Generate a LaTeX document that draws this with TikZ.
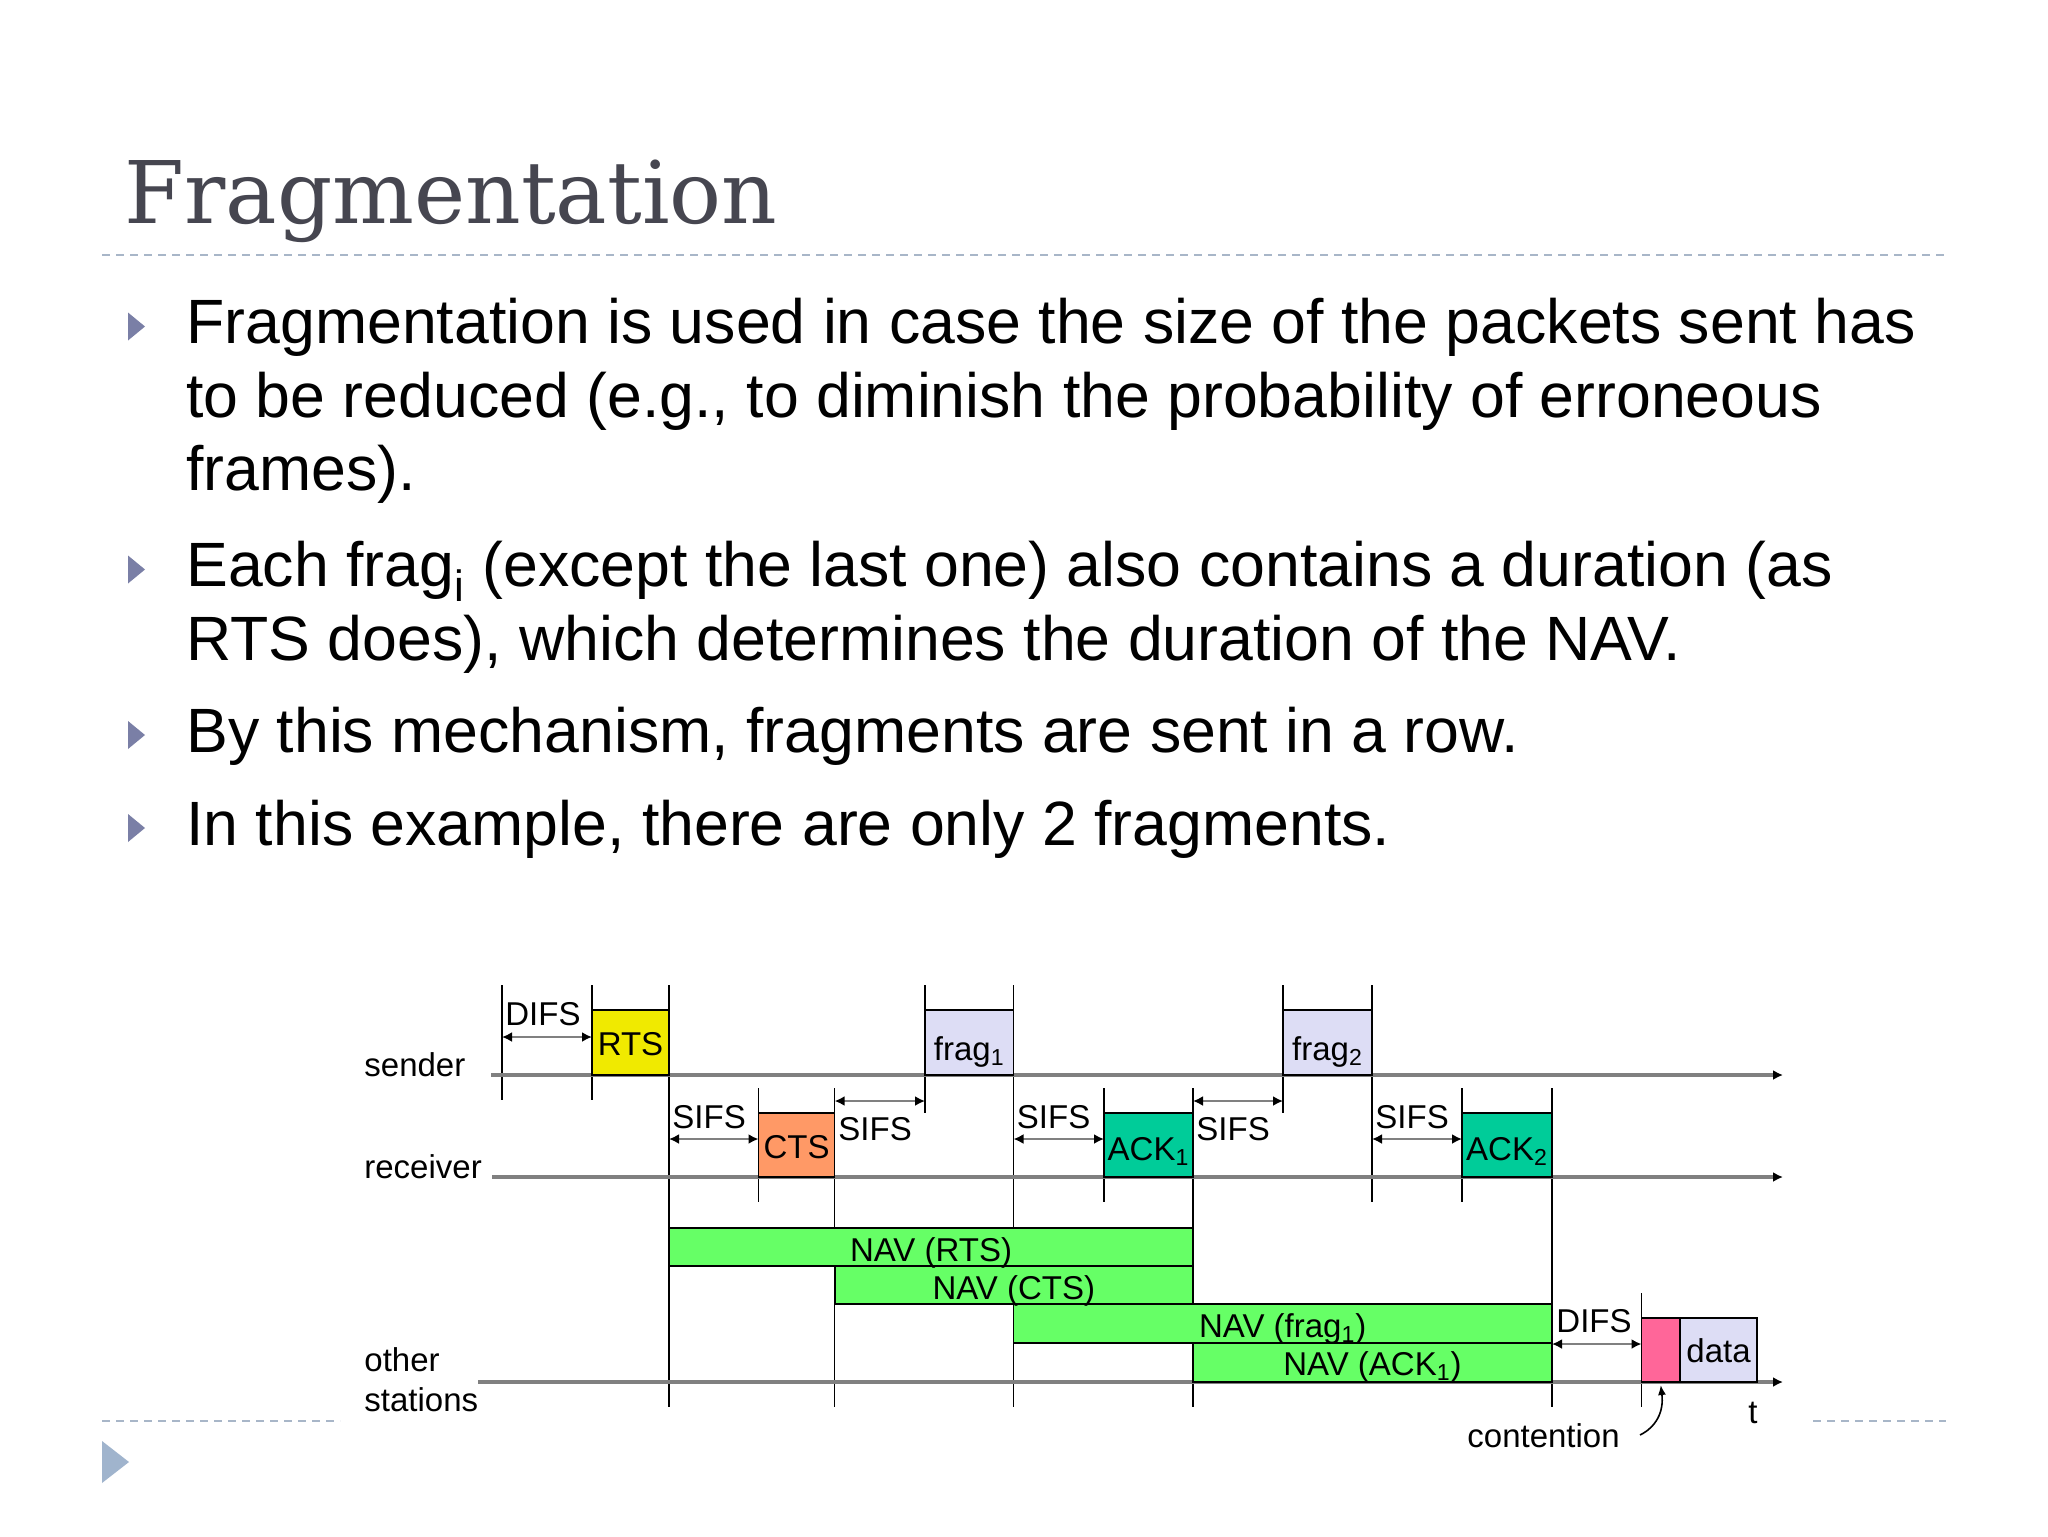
\documentclass[tikz,border=0pt]{standalone}
\usepackage{fontspec}
\setmainfont{Liberation Sans}
\newfontfamily\titlefont{DejaVu Serif}
\usetikzlibrary{arrows.meta}
\definecolor{titlegray}{RGB}{70,70,80}
\definecolor{bulletblue}{RGB}{122,127,166}
\definecolor{dashblue}{RGB}{168,182,200}
\definecolor{cornerblue}{RGB}{160,180,205}
\definecolor{tlgray}{RGB}{128,128,128}
\definecolor{rtsyellow}{RGB}{240,234,0}
\definecolor{ctsorange}{RGB}{255,153,102}
\definecolor{fraglav}{RGB}{221,221,245}
\definecolor{ackteal}{RGB}{0,204,153}
\definecolor{navgreen}{RGB}{102,255,102}
\definecolor{contpink}{RGB}{255,102,153}
\begin{document}
\begin{tikzpicture}[x=0.5pt,y=-0.5pt,
  bodytext/.style={anchor=base west, inner sep=0pt, font=\fontsize{31.3}{36}\selectfont, text=black},
  dlbl/.style={inner sep=0pt, font=\fontsize{16.5}{18}\selectfont, text=black},
  pbox/.style={draw=black, line width=0.9pt, inner sep=0pt, minimum height=32.5pt},
  navbox/.style={draw=black, line width=0.9pt, inner sep=0pt, fill=navgreen},
  tline/.style={draw=tlgray, line width=1.7pt, -{Latex[color=black,length=5pt,width=5pt]}},
  vline/.style={draw=black, line width=0.8pt},
  ivl/.style={draw=tlgray, line width=1.4pt, {Latex[color=black,length=5pt,width=5pt]}-{Latex[color=black,length=5pt,width=5pt]}},
  sepline/.style={draw=dashblue, line width=1pt, dash pattern=on 4pt off 3pt}
]
\useasboundingbox[fill=white] (0,0) rectangle (2048,1536);

% title and separators
\node[anchor=base west, inner sep=0pt, font=\titlefont\fontsize{43.2}{48}\selectfont, text=titlegray] (title) at (124,223) {Fragmentation};
\draw[sepline] (102,255) -- (1946,255);
\draw[sepline] (102,1421) -- (340,1421);
\draw[sepline] (1813,1421) -- (1946,1421);
\fill[cornerblue] (102,1441) -- (129,1462) -- (102,1483) -- cycle;

% bullets
\foreach \b in {343.5,586.5,752,845}{
  \fill[bulletblue] (128,\b-31) -- (145,\b-17) -- (128,\b-3) -- cycle;
}
\node[bodytext] (l1) at (186,343.5) {Fragmentation is used in case the size of the packets sent has};
\node[bodytext] (l2) at (186,417) {to be reduced (e.g., to diminish the probability of erroneous};
\node[bodytext] (l3) at (186,490.5) {frames).};
\node[bodytext] (l4) at (186,586.5) {Each frag\textsubscript{i} (except the last one) also contains a duration (as};
\node[bodytext] (l5) at (186,660) {RTS does), which determines the duration of the NAV.};
\node[bodytext] (l6) at (186,752) {By this mechanism, fragments are sent in a row.};
\node[bodytext] (l7) at (186,845) {In this example, there are only 2 fragments.};

% ---------------- diagram ----------------
% vertical lines
\draw[vline] (502,985) -- (502,1100);
\draw[vline] (592,985) -- (592,1100);
\draw[vline] (669,985) -- (669,1407);
\draw[vline] (925,985) -- (925,1113);
\draw[vline] (1013.5,985) -- (1013.5,1407);
\draw[vline] (1283,985) -- (1283,1113);
\draw[vline] (1372,985) -- (1372,1202);
\draw[vline] (758.5,1088) -- (758.5,1202);
\draw[vline] (834.6,1088) -- (834.6,1407);
\draw[vline] (1104,1088) -- (1104,1202);
\draw[vline] (1193,1088) -- (1193,1407);
\draw[vline] (1462,1088) -- (1462,1202);
\draw[vline] (1552,1088) -- (1552,1407);
\draw[vline] (1641.5,1293) -- (1641.5,1407);

% timelines
\coordinate (sS) at (491,1075);   \coordinate (sE) at (1783,1075);
\coordinate (rS) at (492,1177);   \coordinate (rE) at (1783,1177);
\coordinate (oS) at (478,1382);   \coordinate (oE) at (1783,1382);
\draw[tline] (sS) -- (sE);
\draw[tline] (rS) -- (rE);
\draw[tline] (oS) -- (oE);

\node[dlbl, anchor=base west] (snd) at (364,1076) {sender};
\node[dlbl, anchor=base west] (rcv) at (364,1178) {receiver};
\node[dlbl, anchor=base west] (oth) at (364,1371) {other};
\node[dlbl, anchor=base west] (sta) at (364,1411) {stations};

% frames
\node[pbox, fill=rtsyellow, minimum width=38.5pt] (rts) at (630.5,1042.5) {};
\node[pbox, fill=ctsorange, minimum width=38pt, minimum height=32pt] (cts) at (796.5,1145) {};
\node[pbox, fill=fraglav, minimum width=44.25pt] (frag1) at (969.25,1042.5) {};
\node[pbox, fill=ackteal, minimum width=44.5pt, minimum height=32pt] (ack1) at (1148.5,1145) {};
\node[pbox, fill=fraglav, minimum width=44.5pt] (frag2) at (1327.5,1042.5) {};
\node[pbox, fill=ackteal, minimum width=45pt, minimum height=32pt] (ack2) at (1507,1145) {};

\node[dlbl, anchor=base] (trts) at (630.5,1055) {RTS};
\node[dlbl, anchor=base] (tcts) at (796.5,1158) {CTS};
\node[dlbl, anchor=base] (tfrag1) at (969.25,1060) {frag\textsubscript{1}};
\node[dlbl, anchor=base] (tack1) at (1148.5,1160) {ACK\textsubscript{1}};
\node[dlbl, anchor=base] (tfrag2) at (1327.5,1060) {frag\textsubscript{2}};
\node[dlbl, anchor=base] (tack2) at (1507,1160) {ACK\textsubscript{2}};

% NAVs
\node[navbox, minimum width=262pt, minimum height=19pt] (navrts) at (931,1247) {};
\node[navbox, minimum width=179.2pt, minimum height=19pt] (navcts) at (1013.8,1285) {};
\node[navbox, minimum width=269.25pt, minimum height=19.5pt] (navf1) at (1282.75,1323.5) {};
\node[navbox, minimum width=179.5pt, minimum height=19.5pt] (navack) at (1372.5,1362.5) {};
\node[dlbl, anchor=base] (tnavrts) at (931,1261) {NAV (RTS)};
\node[dlbl, anchor=base] (tnavcts) at (1013.8,1299) {NAV (CTS)};
\node[dlbl, anchor=base] (tnavf1) at (1282.75,1337) {NAV (frag\textsubscript{1})};
\node[dlbl, anchor=base] (tnavack) at (1372.5,1375) {NAV (ACK\textsubscript{1})};

% contention and data
\node[pbox, fill=contpink, minimum width=19.25pt, minimum height=32pt] (cont) at (1660.75,1350) {};
\node[pbox, fill=fraglav, minimum width=38.5pt, minimum height=32pt] (data) at (1718.5,1350) {};
\node[dlbl, anchor=base] (tdata) at (1718.5,1362) {data};

% interval arrows
\coordinate (d1a) at (502,1037);    \coordinate (d1b) at (592,1037);
\coordinate (s1a) at (669,1139);    \coordinate (s1b) at (758.5,1139);
\coordinate (s2a) at (834.6,1101);  \coordinate (s2b) at (925,1101);
\coordinate (s3a) at (1013.5,1139); \coordinate (s3b) at (1104,1139);
\coordinate (s4a) at (1193,1101);   \coordinate (s4b) at (1283,1101);
\coordinate (s5a) at (1372,1139);   \coordinate (s5b) at (1462,1139);
\coordinate (d2a) at (1552,1344);   \coordinate (d2b) at (1641.5,1344);
\draw[ivl] (d1a) -- (d1b);
\draw[ivl] (s1a) -- (s1b);
\draw[ivl] (s2a) -- (s2b);
\draw[ivl] (s3a) -- (s3b);
\draw[ivl] (s4a) -- (s4b);
\draw[ivl] (s5a) -- (s5b);
\draw[ivl] (d2a) -- (d2b);
\node[dlbl, anchor=base west] (ld1) at (505,1025) {DIFS};
\node[dlbl, anchor=base west] (ls1) at (672,1128) {SIFS};
\node[dlbl, anchor=base west] (ls2) at (838,1140) {SIFS};
\node[dlbl, anchor=base west] (ls3) at (1016.5,1128) {SIFS};
\node[dlbl, anchor=base west] (ls4) at (1196,1140) {SIFS};
\node[dlbl, anchor=base west] (ls5) at (1375,1128) {SIFS};
\node[dlbl, anchor=base west] (ld2) at (1556,1332) {DIFS};

% time label and contention
\node[dlbl, anchor=base west] (tt) at (1748,1423) {t};
\node[dlbl, anchor=base west] (tcont) at (1467,1447) {contention};
\coordinate (cA) at (1640,1435);
\draw[black, line width=0.8pt, -{Latex[length=5pt,width=4pt]}] (cA) .. controls (1656,1427) and (1664,1412) .. (cont.south |- 0,1385);
\end{tikzpicture}
\end{document}
